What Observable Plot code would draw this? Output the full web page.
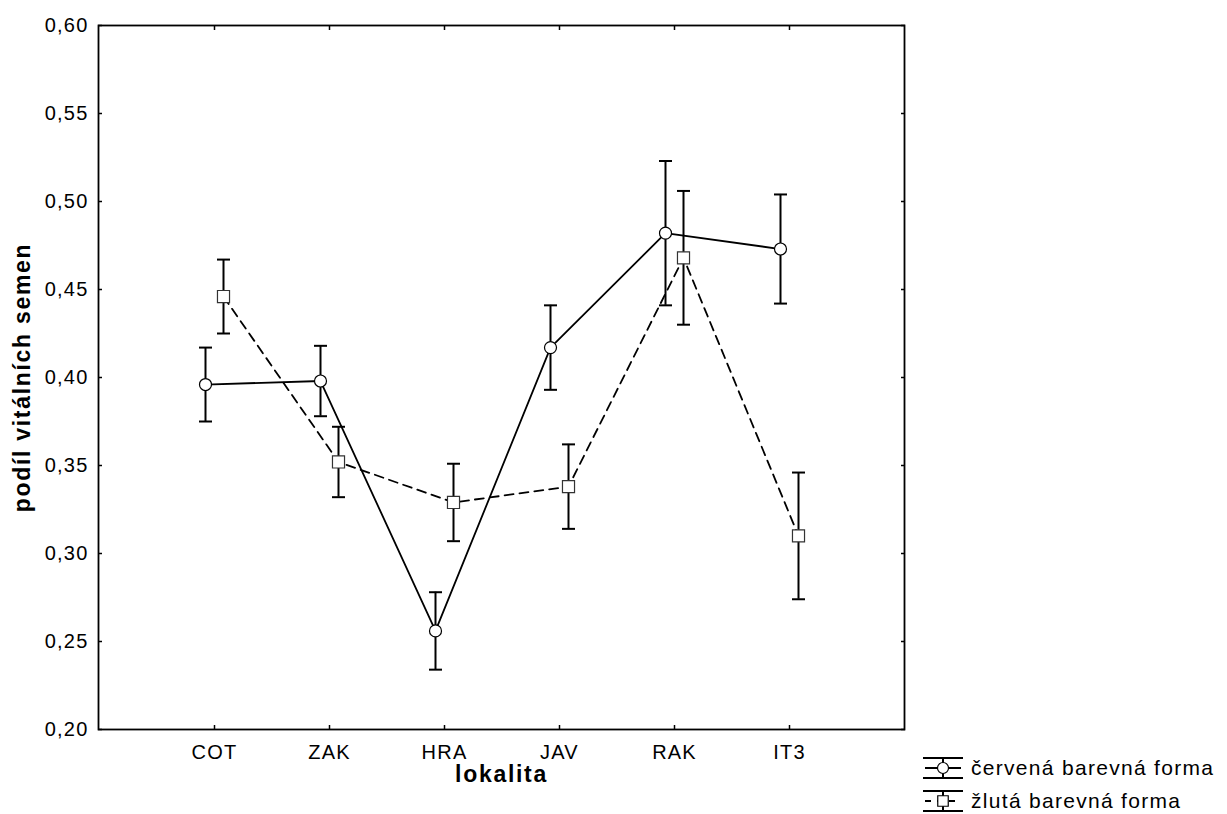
<!DOCTYPE html>
<html>
<head>
<meta charset="utf-8">
<script src="https://cdn.jsdelivr.net/npm/d3@7"></script>
<script src="https://cdn.jsdelivr.net/npm/@observablehq/plot@0.6"></script>
<style>
  html, body { margin: 0; padding: 0; background: white; }
  #wrap { position: relative; width: 1227px; height: 814px; }
  #legend { position: absolute; left: 915px; top: 748px; }
  text { font-family: "Liberation Sans", Arial, sans-serif; }
</style>
</head>
<body>
<div id="wrap"></div>
<script>
// Localities (sites) along the x axis
const lokality = ["COT", "ZAK", "HRA", "JAV", "RAK", "IT3"];

// Red colour form: mean proportion of viable seeds and its error half-width
const cervenaPrumer = [0.396, 0.398, 0.256, 0.417, 0.482, 0.473];
const cervenaChyba  = [0.021, 0.020, 0.022, 0.024, 0.041, 0.031];

// Yellow colour form
const zlutaPrumer = [0.446, 0.352, 0.329, 0.338, 0.468, 0.310];
const zlutaChyba  = [0.021, 0.020, 0.022, 0.024, 0.038, 0.036];

// Y axis tick values
const yTicks = [0.20, 0.25, 0.30, 0.35, 0.40, 0.45, 0.50, 0.55, 0.60];

const seriesNames = ["červená barevná forma", "žlutá barevná forma"];
const axisTitleY = "podíl vitálních semen";
const axisTitleX = "lokalita";

const toRows = (means, errs) => lokality.map((l, i) => ({
  lokalita: l, mean: means[i], lo: means[i] - errs[i], hi: means[i] + errs[i]
}));
const cervena = toRows(cervenaPrumer, cervenaChyba);
const zluta = toRows(zlutaPrumer, zlutaChyba);

const fmt = d => d3.format(".2f")(d).replace(".", ",");
const font = `"Liberation Sans", Arial, sans-serif`;

// horizontal whisker cap drawn as a custom dot symbol
const cap = { draw(ctx) { ctx.moveTo(-6.5, 0); ctx.lineTo(6.5, 0); } };

const OFF = 9; // horizontal offset separating the two forms at each site

function seriesMarks(rows, dx, dash, symbol, r, markStroke) {
  return [
    Plot.line(rows, {x: "lokalita", y: "mean", dx, stroke: "black", strokeWidth: 1.8, strokeDasharray: dash}),
    Plot.ruleX(rows, {x: "lokalita", y1: "lo", y2: "hi", dx, stroke: "black", strokeWidth: 2}),
    Plot.dot(rows, {x: "lokalita", y: "lo", dx, symbol: cap, stroke: "black", strokeWidth: 2, fill: "none"}),
    Plot.dot(rows, {x: "lokalita", y: "hi", dx, symbol: cap, stroke: "black", strokeWidth: 2, fill: "none"}),
    Plot.dot(rows, {x: "lokalita", y: "mean", dx, symbol, r, fill: "white", stroke: markStroke, strokeWidth: 1.2})
  ];
}

const chart = Plot.plot({
  width: 1227,
  height: 814,
  marginLeft: 98,
  marginRight: 323,
  marginTop: 25,
  marginBottom: 85,
  style: {fontFamily: font, fontSize: "20px", background: "white", color: "black", letterSpacing: "1.2px"},
  x: {type: "point", domain: lokality, padding: 1, label: null},
  y: {domain: [0.2, 0.6], label: null},
  marks: [
    Plot.frame({stroke: "black", strokeWidth: 1.8}),
    Plot.axisY(yTicks, {anchor: "left", tickSize: -4, tickPadding: 14, tickFormat: fmt, fontSize: 20, strokeWidth: 1.5, label: null}),
    Plot.axisY(yTicks, {anchor: "right", tickSize: -4, tickFormat: () => "", strokeWidth: 1.5, label: null}),
    Plot.axisX({anchor: "bottom", tickSize: -4, tickPadding: 19, fontSize: 20, strokeWidth: 1.5, label: null}),
    Plot.axisX({anchor: "top", tickSize: -4, tickFormat: () => "", strokeWidth: 1.5, label: null}),
    ...seriesMarks(zluta, OFF, "9,6", "square", 6.8, "#333"),
    ...seriesMarks(cervena, -OFF, null, "circle", 6, "black"),
    Plot.text([axisTitleY], {frameAnchor: "left", dx: -76, rotate: -90, textAnchor: "middle", lineAnchor: "middle",
      fontWeight: "bold", fontSize: 23, text: d => d}),
    Plot.text([axisTitleX], {frameAnchor: "bottom", dy: 45, textAnchor: "middle", lineAnchor: "middle",
      fontWeight: "bold", fontSize: 23, text: d => d})
  ]
});

// bolder letter spacing for the two axis titles
d3.select(chart).selectAll("text").filter(function() { return this.textContent === axisTitleY || this.textContent === axisTitleX; })
  .attr("letter-spacing", "1.7px");

const wrap = document.getElementById("wrap");
wrap.appendChild(chart);

// Legend: line + marker with whisker caps, then the series name
const legend = d3.select(wrap).append("svg")
  .attr("id", "legend").attr("width", 312).attr("height", 66)
  .style("overflow", "visible");

const legendRows = [
  {name: seriesNames[0], dash: null, symbol: "circle"},
  {name: seriesNames[1], dash: "6,6", symbol: "square"}
];
legendRows.forEach((row, i) => {
  const g = legend.append("g").attr("transform", `translate(0,${20 + i * 33})`);
  g.append("line").attr("x1", 8).attr("x2", 48).attr("y1", -10).attr("y2", -10).attr("stroke", "black").attr("stroke-width", 2);
  g.append("line").attr("x1", 8).attr("x2", 48).attr("y1", 10).attr("y2", 10).attr("stroke", "black").attr("stroke-width", 2);
  g.append("line").attr("x1", 28).attr("x2", 28).attr("y1", -10).attr("y2", 10).attr("stroke", "black").attr("stroke-width", 2);
  g.append("line").attr("x1", 10).attr("x2", 46).attr("y1", 0).attr("y2", 0)
    .attr("stroke", "black").attr("stroke-width", 1.8).attr("stroke-dasharray", row.dash);
  g.append("path").attr("transform", "translate(28,0)")
    .attr("d", d3.symbol(row.symbol === "circle" ? d3.symbolCircle : d3.symbolSquare, row.symbol === "circle" ? 95 : 110)())
    .attr("fill", "white").attr("stroke", "black").attr("stroke-width", 1.2);
  g.append("text").attr("x", 56).attr("y", 7).attr("font-size", 21).attr("letter-spacing", "1.3px")
    .attr("fill", "black").text(row.name);
});
</script>
</body>
</html>
